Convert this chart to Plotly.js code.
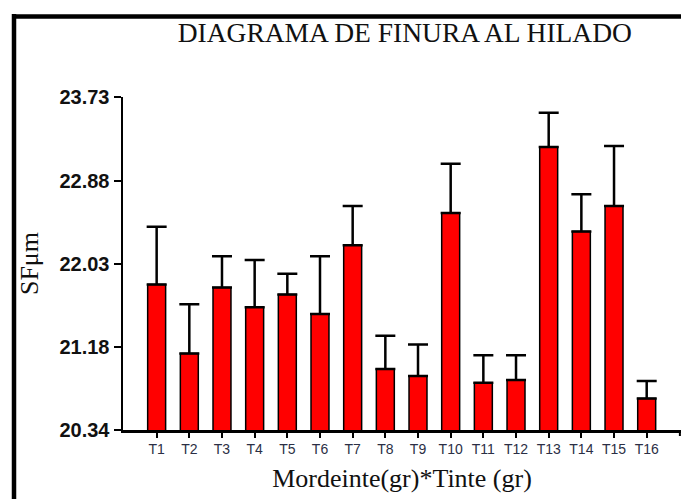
<!DOCTYPE html>
<html>
<head>
<meta charset="utf-8">
<script src="https://cdn.plot.ly/plotly-3.0.1.min.js"></script>
<style>
html,body{margin:0;padding:0;background:#fff;}
#chart{width:681px;height:499px;}
</style>
</head>
<body>
<div id="chart"></div>
<script>
var categories = ["T1","T2","T3","T4","T5","T6","T7","T8","T9","T10","T11","T12","T13","T14","T15","T16"];
var means = [21.82,21.12,21.79,21.59,21.72,21.52,22.22,20.96,20.89,22.55,20.82,20.85,23.22,22.36,22.62,20.66];
var errors = [0.59,0.50,0.32,0.48,0.21,0.59,0.40,0.34,0.32,0.50,0.28,0.25,0.35,0.38,0.61,0.18];
var yTicks = [20.34,21.18,22.03,22.88,23.73];
var yTickText = ["20.34","21.18","22.03","22.88","23.73"];
var chartTitle = "DIAGRAMA DE FINURA AL HILADO";
var xTitle = "Mordeinte(gr)*Tinte (gr)";
var yTitle = "SFμm";

var serif = "Liberation Serif, Times New Roman, serif";
var sans = "Liberation Sans, Arial, sans-serif";

var trace = {
  type: "bar",
  x: categories,
  y: means,
  width: 0.55,
  marker: {color: "#ff0000", line: {color: "#000", width: 1.5}},
  error_y: {
    type: "data",
    symmetric: false,
    array: errors,
    arrayminus: errors.map(function(){return 0;}),
    color: "#000",
    thickness: 2.5,
    width: 10
  },
  hoverinfo: "none"
};

var layout = {
  width: 681,
  height: 499,
  margin: {l: 123, r: 0, t: 97, b: 69},
  paper_bgcolor: "#fff",
  plot_bgcolor: "#fff",
  showlegend: false,
  title: {
    text: chartTitle,
    font: {family: serif, size: 27.5, color: "#111"},
    xref: "paper", x: 0.505, xanchor: "center",
    yref: "container", y: 1 - 32/499, yanchor: "middle"
  },
  xaxis: {
    type: "category",
    range: [-1.03, 16.05],
    showline: true, linecolor: "#000", linewidth: 2.5,
    ticks: "outside", ticklen: 5, tickwidth: 2, tickcolor: "#000",
    tickfont: {family: sans, size: 14, color: "#2b2f45"},
    showgrid: false, zeroline: false,
    title: {text: xTitle, font: {family: serif, size: 26, color: "#111"}, standoff: 13}
  },
  yaxis: {
    range: [20.34, 23.73],
    tickvals: yTicks, ticktext: yTickText,
    showline: true, linecolor: "#000", linewidth: 2.5,
    ticks: "outside", ticklen: 7, tickwidth: 2, tickcolor: "#000",
    tickfont: {family: sans, size: 20, color: "#111", weight: "bold"},
    showgrid: false, zeroline: false,
    title: {text: yTitle, font: {family: serif, size: 26, color: "#111"}, standoff: 14}
  },
  shapes: [
    {type: "line", xref: "paper", yref: "paper", x0: (14-123)/558, x1: (14-123)/558, y0: (430-14)/333, y1: -0.3, line: {color: "#000", width: 4.5}},
    {type: "line", xref: "paper", yref: "paper", x0: (12-123)/558, x1: 1.05, y0: (430-16.5)/333, y1: (430-16.5)/333, line: {color: "#000", width: 4.5}},
    {type: "line", xref: "paper", yref: "paper", x0: 0.998, x1: 0.998, y0: 0, y1: -6/333, line: {color: "#000", width: 2}}
  ]
};

Plotly.newPlot("chart", [trace], layout, {displayModeBar: false, staticPlot: true});
</script>
</body>
</html>
